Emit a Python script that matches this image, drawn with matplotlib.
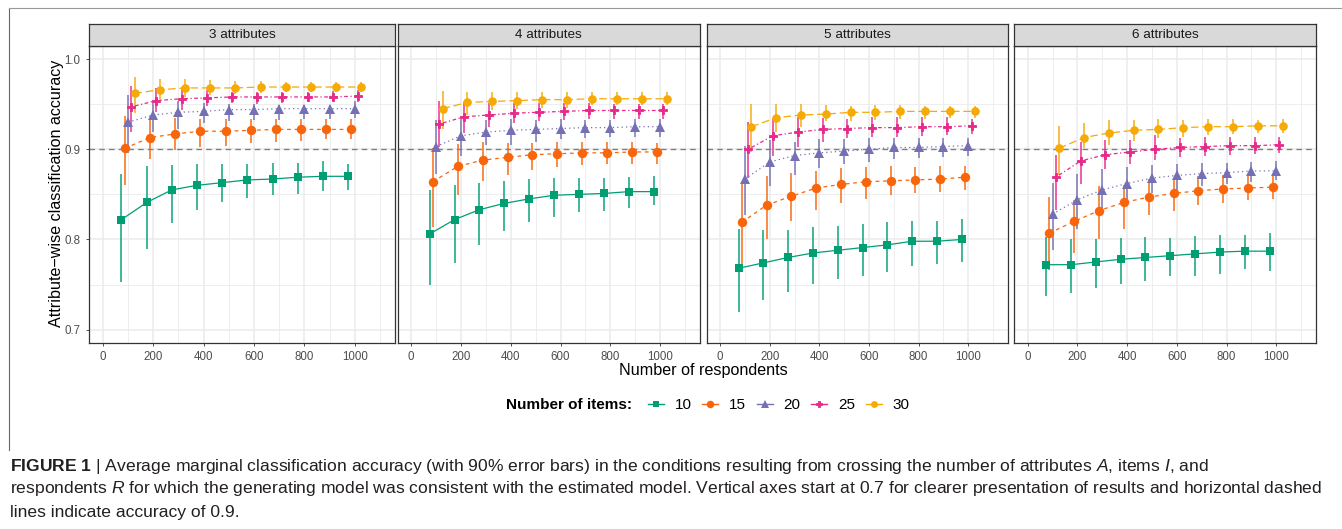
import numpy as np
import matplotlib
matplotlib.use('Agg')
import matplotlib.pyplot as plt
from matplotlib.lines import Line2D

# respondents and dodge offsets
respondents = [100, 200, 300, 400, 500, 600, 700, 800, 900, 1000]
items = [10, 15, 20, 25, 30]
attributes = [3, 4, 5, 6]

# mean accuracy per items count, one dict per attribute count
mean_a3 = {10: [0.822, 0.841, 0.855, 0.860, 0.863, 0.866, 0.867, 0.869, 0.870, 0.870],
           15: [0.901, 0.913, 0.917, 0.920, 0.920, 0.921, 0.922, 0.922, 0.922, 0.922],
           20: [0.930, 0.938, 0.941, 0.942, 0.944, 0.944, 0.945, 0.945, 0.945, 0.945],
           25: [0.947, 0.954, 0.956, 0.957, 0.958, 0.958, 0.958, 0.958, 0.958, 0.959],
           30: [0.962, 0.966, 0.968, 0.968, 0.968, 0.969, 0.969, 0.969, 0.969, 0.969]}
lo_a3 = {10: [0.753, 0.789, 0.818, 0.833, 0.841, 0.846, 0.849, 0.850, 0.854, 0.855],
         15: [0.860, 0.889, 0.899, 0.902, 0.904, 0.907, 0.908, 0.909, 0.911, 0.911],
         20: [0.896, 0.919, 0.923, 0.929, 0.931, 0.932, 0.932, 0.934, 0.934, 0.935],
         25: [0.919, 0.941, 0.944, 0.948, 0.951, 0.950, 0.951, 0.952, 0.953, 0.952],
         30: [0.940, 0.955, 0.958, 0.960, 0.961, 0.962, 0.963, 0.963, 0.964, 0.964]}
hi_a3 = {10: [0.873, 0.881, 0.882, 0.884, 0.884, 0.884, 0.885, 0.885, 0.887, 0.884],
         15: [0.937, 0.935, 0.935, 0.934, 0.934, 0.933, 0.933, 0.933, 0.934, 0.933],
         20: [0.960, 0.954, 0.953, 0.951, 0.950, 0.950, 0.949, 0.949, 0.949, 0.953],
         25: [0.970, 0.968, 0.969, 0.966, 0.964, 0.964, 0.964, 0.963, 0.965, 0.966],
         30: [0.980, 0.978, 0.978, 0.977, 0.976, 0.976, 0.975, 0.975, 0.975, 0.975]}

mean_a4 = {10: [0.806, 0.822, 0.833, 0.840, 0.845, 0.849, 0.850, 0.851, 0.853, 0.853],
           15: [0.864, 0.881, 0.888, 0.891, 0.894, 0.895, 0.896, 0.896, 0.897, 0.897],
           20: [0.903, 0.915, 0.919, 0.921, 0.922, 0.923, 0.924, 0.924, 0.925, 0.925],
           25: [0.928, 0.936, 0.938, 0.940, 0.941, 0.942, 0.943, 0.943, 0.943, 0.943],
           30: [0.945, 0.952, 0.953, 0.954, 0.955, 0.955, 0.956, 0.956, 0.956, 0.956]}
lo_a4 = {10: [0.749, 0.774, 0.794, 0.809, 0.819, 0.825, 0.830, 0.832, 0.835, 0.838],
         15: [0.814, 0.849, 0.865, 0.872, 0.877, 0.880, 0.883, 0.884, 0.884, 0.884],
         20: [0.873, 0.892, 0.905, 0.905, 0.908, 0.911, 0.912, 0.914, 0.914, 0.914],
         25: [0.903, 0.918, 0.925, 0.929, 0.931, 0.932, 0.934, 0.934, 0.934, 0.934],
         30: [0.922, 0.938, 0.943, 0.945, 0.946, 0.946, 0.949, 0.949, 0.949, 0.949]}
hi_a4 = {10: [0.855, 0.860, 0.863, 0.865, 0.867, 0.868, 0.868, 0.868, 0.869, 0.870],
         15: [0.901, 0.906, 0.908, 0.907, 0.907, 0.908, 0.908, 0.908, 0.908, 0.907],
         20: [0.932, 0.934, 0.932, 0.934, 0.932, 0.934, 0.932, 0.932, 0.934, 0.933],
         25: [0.953, 0.952, 0.951, 0.951, 0.951, 0.951, 0.951, 0.950, 0.950, 0.950],
         30: [0.965, 0.963, 0.964, 0.964, 0.964, 0.963, 0.963, 0.963, 0.963, 0.963]}

mean_a5 = {10: [0.768, 0.774, 0.780, 0.785, 0.788, 0.791, 0.794, 0.798, 0.798, 0.800],
           15: [0.819, 0.838, 0.848, 0.857, 0.861, 0.864, 0.865, 0.866, 0.867, 0.869],
           20: [0.867, 0.886, 0.893, 0.896, 0.898, 0.900, 0.902, 0.902, 0.903, 0.904],
           25: [0.900, 0.915, 0.919, 0.922, 0.923, 0.924, 0.924, 0.925, 0.925, 0.926],
           30: [0.925, 0.935, 0.938, 0.939, 0.941, 0.941, 0.942, 0.942, 0.942, 0.942]}
lo_a5 = {10: [0.719, 0.733, 0.742, 0.751, 0.756, 0.760, 0.764, 0.770, 0.773, 0.775],
         15: [0.768, 0.801, 0.821, 0.833, 0.840, 0.845, 0.849, 0.851, 0.853, 0.855],
         20: [0.827, 0.859, 0.871, 0.879, 0.884, 0.886, 0.889, 0.890, 0.891, 0.892],
         25: [0.868, 0.893, 0.902, 0.908, 0.912, 0.914, 0.914, 0.915, 0.916, 0.917],
         30: [0.897, 0.919, 0.925, 0.931, 0.931, 0.932, 0.934, 0.934, 0.935, 0.935]}
hi_a5 = {10: [0.812, 0.811, 0.811, 0.814, 0.815, 0.817, 0.819, 0.821, 0.821, 0.823],
         15: [0.862, 0.870, 0.874, 0.876, 0.879, 0.880, 0.881, 0.880, 0.881, 0.881],
         20: [0.904, 0.910, 0.908, 0.911, 0.911, 0.912, 0.912, 0.912, 0.912, 0.912],
         25: [0.930, 0.933, 0.936, 0.935, 0.934, 0.936, 0.936, 0.936, 0.936, 0.934],
         30: [0.950, 0.950, 0.950, 0.949, 0.948, 0.949, 0.949, 0.948, 0.948, 0.948]}

mean_a6 = {10: [0.772, 0.772, 0.775, 0.778, 0.780, 0.782, 0.784, 0.786, 0.787, 0.787],
           15: [0.807, 0.820, 0.832, 0.841, 0.847, 0.851, 0.854, 0.856, 0.857, 0.858],
           20: [0.828, 0.844, 0.855, 0.862, 0.868, 0.871, 0.873, 0.874, 0.876, 0.876],
           25: [0.869, 0.887, 0.894, 0.897, 0.900, 0.902, 0.903, 0.904, 0.904, 0.905],
           30: [0.901, 0.913, 0.918, 0.921, 0.922, 0.924, 0.925, 0.925, 0.926, 0.926]}
lo_a6 = {10: [0.737, 0.741, 0.746, 0.751, 0.754, 0.759, 0.760, 0.762, 0.767, 0.765],
         15: [0.766, 0.785, 0.800, 0.812, 0.827, 0.832, 0.838, 0.840, 0.844, 0.845],
         20: [0.788, 0.812, 0.830, 0.844, 0.851, 0.855, 0.859, 0.862, 0.864, 0.866],
         25: [0.833, 0.862, 0.878, 0.884, 0.888, 0.891, 0.892, 0.894, 0.895, 0.896],
         30: [0.871, 0.901, 0.905, 0.909, 0.912, 0.914, 0.916, 0.917, 0.918, 0.918]}
hi_a6 = {10: [0.803, 0.801, 0.801, 0.802, 0.803, 0.802, 0.804, 0.805, 0.805, 0.807],
         15: [0.847, 0.844, 0.859, 0.860, 0.867, 0.867, 0.870, 0.871, 0.871, 0.870],
         20: [0.863, 0.873, 0.878, 0.880, 0.883, 0.884, 0.885, 0.885, 0.886, 0.887],
         25: [0.894, 0.908, 0.910, 0.910, 0.916, 0.913, 0.914, 0.914, 0.914, 0.914],
         30: [0.926, 0.929, 0.932, 0.932, 0.934, 0.932, 0.934, 0.934, 0.932, 0.934]}

panels = {3: (mean_a3, lo_a3, hi_a3), 4: (mean_a4, lo_a4, hi_a4),
          5: (mean_a5, lo_a5, hi_a5), 6: (mean_a6, lo_a6, hi_a6)}

# styles per number of items
colors = {10: '#009E73', 15: '#F8650A', 20: '#7570B3', 25: '#E7298A', 30: '#F5AA05'}
markers = {10: 's', 15: 'o', 20: '^', 25: 'P', 30: 'o'}
msizes = {10: 6.2, 15: 6.8, 20: 6.5, 25: 6.2, 30: 6.2}
mews = {10: 0, 15: 0, 20: 0, 25: 0.6, 30: 0}
lstyles = {10: '-', 15: (0, (3, 3)), 20: (0, (1, 2.5)), 25: (0, (1, 2, 3, 2)), 30: (0, (6, 3))}
dodge = {10: -26, 15: -13, 20: 0, 25: 13, 30: 26}

font = 'Liberation Sans'
plt.rcParams['font.family'] = [font, 'DejaVu Sans']
plt.rcParams['mathtext.fontset'] = 'custom'
plt.rcParams['mathtext.rm'] = font
plt.rcParams['mathtext.it'] = font + ':italic'
plt.rcParams['mathtext.bf'] = font + ':bold'

W, H = 1342, 529
fig = plt.figure(figsize=(W / 100, H / 100), dpi=100)

# outer frame of the figure block
fig.add_artist(Line2D([9 / W, 9 / W], [1 - 8 / H, 1 - 450 / H], color='#666666', lw=0.8))
fig.add_artist(Line2D([9 / W, 1], [1 - 8 / H, 1 - 8 / H], color='#999999', lw=0.8))

panel_x = [(89, 395), (397.5, 700), (706.5, 1008), (1014, 1316)]
top, bottom, strip_top = 46, 342.7, 23.5
grid_col = '#EBEBEB'
txt_col = '#4D4D4D'

for k, (a, (x0, x1)) in enumerate(zip(attributes, panel_x)):
    ax = fig.add_axes([x0 / W, 1 - bottom / H, (x1 - x0) / W, (bottom - top) / H])
    mean_d, lo_d, hi_d = panels[a]
    ax.set_xlim(-55, 1160)
    ax.set_ylim(0.6855, 1.0145)
    for v in [0.75, 0.85, 0.95]:
        ax.axhline(v, color=grid_col, lw=0.6, zorder=0)
    for v in [0.7, 0.8, 0.9, 1.0]:
        ax.axhline(v, color=grid_col, lw=1.1, zorder=0)
    for v in range(100, 1200, 200):
        ax.axvline(v, color=grid_col, lw=0.6, zorder=0)
    for v in range(0, 1200, 200):
        ax.axvline(v, color=grid_col, lw=1.1, zorder=0)
    ax.axhline(0.9, color='#808080', lw=1.0, ls=(0, (4, 3)), zorder=1)

    for it in items:
        xs = np.array(respondents) + dodge[it]
        m = np.array(mean_d[it])
        lo = np.array(lo_d[it])
        hi = np.array(hi_d[it])
        ax.vlines(xs, lo, hi, color=colors[it], lw=1.4, alpha=0.75, zorder=2)
        ax.plot(xs, m, color=colors[it], ls=lstyles[it], lw=0.9, zorder=3)
        ax.plot(xs, m, color=colors[it], ls='none', marker=markers[it],
                ms=msizes[it], mew=mews[it], mec=colors[it], zorder=4)

    ax.set_xticks(range(0, 1001, 200))
    ax.set_yticks([0.7, 0.8, 0.9, 1.0])
    ax.tick_params(colors='#333333', labelcolor=txt_col, labelsize=8.3, length=2.5, width=0.6)
    if k == 0:
        ax.set_yticklabels(['0.7', '0.8', '0.9', '1.0'])
    else:
        ax.tick_params(axis='y', left=False, labelleft=False)
    for sp in ax.spines.values():
        sp.set_color('#333333')
        sp.set_linewidth(0.9)

    # facet strip
    sax = fig.add_axes([x0 / W, 1 - top / H, (x1 - x0) / W, (top - strip_top) / H])
    sax.set_xticks([])
    sax.set_yticks([])
    sax.set_facecolor('#D9D9D9')
    for sp in sax.spines.values():
        sp.set_color('#333333')
        sp.set_linewidth(0.9)
    sax.text(0.5, 0.5, f'{a} attributes', ha='center', va='center',
             fontsize=9.7, color='#1A1A1A', transform=sax.transAxes)

fig.text(703 / W, 1 - 370 / H, 'Number of respondents', ha='center', va='center',
         fontsize=11.6, color='black')
fig.text(56 / W, 1 - 193 / H, 'Attribute\u2212wise classification accuracy', ha='center',
         va='center', rotation=90, fontsize=11.6, color='black')

# legend
fig.text(506 / W, 1 - 405 / H, 'Number of items:', ha='left', va='center',
         fontsize=11, fontweight='bold')
handles = [Line2D([0], [0], color=colors[it], lw=1.0, marker=markers[it],
                  ms=msizes[it] * 0.8, mew=mews[it], mec=colors[it]) for it in items]
fig.legend(handles, [str(it) for it in items], loc='center left',
           bbox_to_anchor=(648 / W, 1 - 405 / H), ncol=5, frameon=False,
           fontsize=11, handlelength=1.05, handletextpad=0.7, columnspacing=0.7,
           borderpad=0, borderaxespad=0)

# caption
caption = [
    r'$\mathbf{FIGURE\ 1}$ | Average marginal classification accuracy (with 90% error bars) in the conditions '
    r'resulting from crossing the number of attributes $A$, items $I$, and',
    r'respondents $R$ for which the generating model was consistent with the estimated model. Vertical axes start '
    r'at 0.7 for clearer presentation of results and horizontal dashed',
    'lines indicate accuracy of 0.9.',
]
for i, line in enumerate(caption):
    fig.text(10 / W, 1 - (466 + 23 * i) / H, line, ha='left', va='center',
             fontsize=12.6, color='#231F20')

fig.savefig('out.png', dpi=100)
